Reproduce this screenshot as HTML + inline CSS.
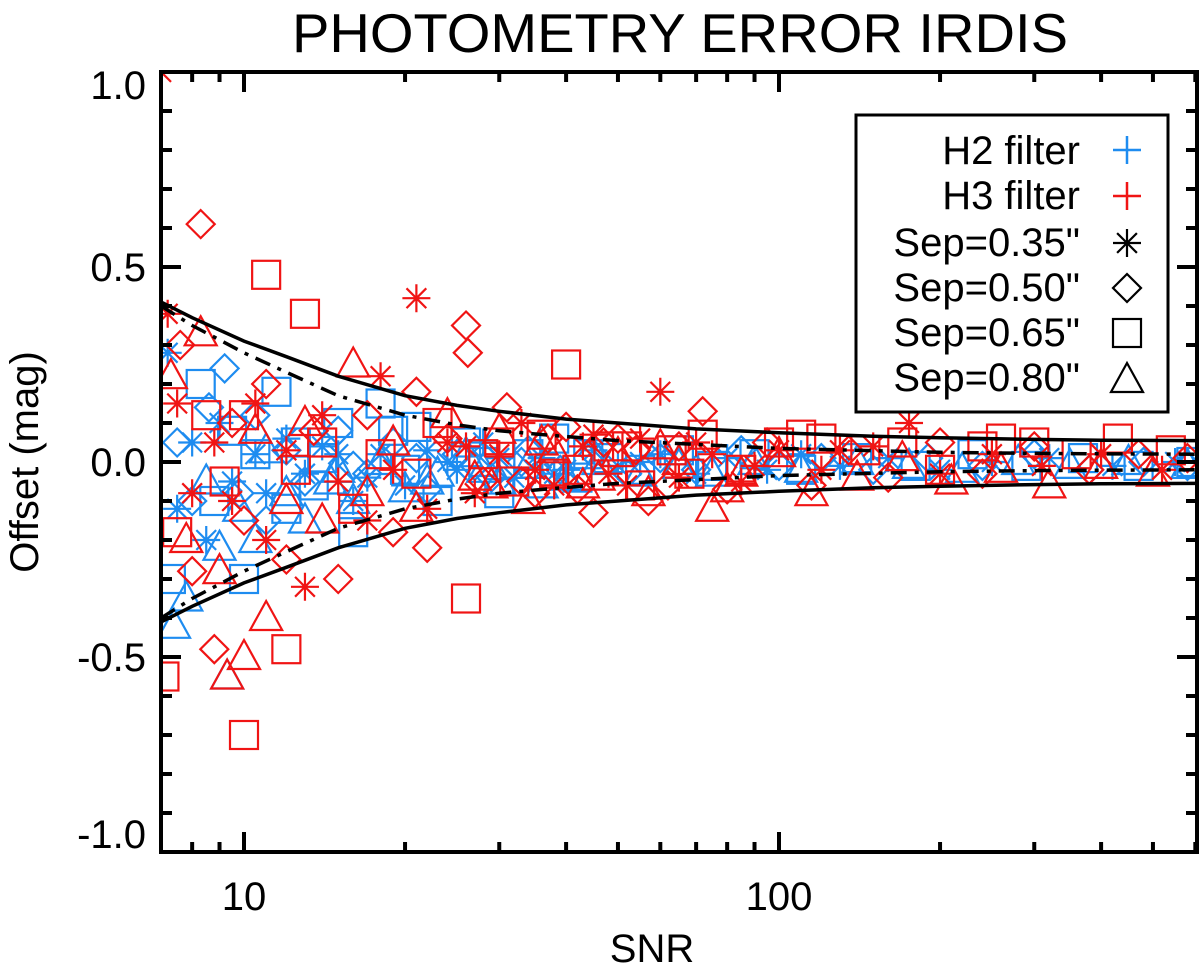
<!DOCTYPE html>
<html><head><meta charset="utf-8"><style>
body{margin:0;background:#fff}
svg{display:block;font-family:"Liberation Sans",sans-serif}
</style></head><body>
<svg id="chart" width="1200" height="966" viewBox="0 0 1200 966">
<defs><clipPath id="pc"><rect x="161" y="72" width="1036" height="780"/></clipPath></defs>
<text x="680" y="52" font-size="55" text-anchor="middle" transform="translate(680,0) scale(1.02,1) translate(-680,0)">PHOTOMETRY ERROR IRDIS</text>
<text transform="translate(38,462) rotate(-90)" font-size="40" text-anchor="middle">Offset (mag)</text>
<text x="652" y="962" font-size="40" text-anchor="middle">SNR</text>
<g id="marks" clip-path="url(#pc)"></g>
<g id="axes"></g>
<g>
<rect x="856" y="115" width="312" height="297" fill="#fff" stroke="#000" stroke-width="3"/>
<g font-size="40" text-anchor="end">
<text x="1080" y="164">H2 filter</text>
<text x="1080" y="209">H3 filter</text>
<text x="1080" y="256">Sep=0.35"</text>
<text x="1080" y="301">Sep=0.50"</text>
<text x="1080" y="346">Sep=0.65"</text>
<text x="1080" y="391">Sep=0.80"</text>
</g>
<g id="legsym"></g>
</g>
</svg>
<script>
const xTicksMajor=[10,100];
const xTicksMinor=[8,9,20,30,40,50,60,70,80,90,200,300,400,500,600];
const yTickLabels=["1.0","0.5","0.0","-0.5","-1.0"];
const yTickValues=[1.0,0.5,0,-0.5,-1.0];
const curveSNR=[7,8,10,12,15,20,25,30,40,50,70,100,150,200,300,400,600];
const solidEnv=[0.41,0.37,0.31,0.27,0.22,0.17,0.145,0.13,0.11,0.10,0.085,0.075,0.066,0.062,0.058,0.056,0.055];
const dashEnv=[0.40,0.35,0.28,0.23,0.17,0.12,0.095,0.08,0.065,0.055,0.045,0.035,0.029,0.025,0.022,0.021,0.02];
const h2Star=[[7.2,0.28],[7.5,-0.12],[8,0.05],[8.5,-0.2],[9,0.1],[9.5,-0.05],[10.5,0.02],[11,-0.08],[12,0.06],[13,-0.03],[14,0.04],[16,-0.1],[18,0.02],[20,-0.06],[22,0.03],[25,-0.02],[28,0.05],[32,-0.04],[36,0.01],[40,-0.02],[45,0.03],[50,-0.01],[60,0.02],[70,-0.03],[80,0.01],[95,-0.02],[110,0.02],[130,-0.01],[160,0.01],[200,-0.02],[250,0.0],[320,0.01],[420,-0.01],[550,0.0],[15,0.02],[17,-0.04],[24,0.0],[30,0.01],[38,-0.03],[55,0.0]];
const h2Diamond=[[7.5,0.05],[8,-0.1],[8.6,0.14],[9.2,0.24],[9.8,-0.08],[10.5,0.12],[11,-0.15],[12,0.03],[13,-0.05],[15,0.08],[17,-0.03],[19,0.05],[22,-0.07],[25,0.02],[29,-0.04],[34,0.03],[39,-0.02],[45,0.02],[52,-0.03],[60,0.01],[70,-0.02],[85,0.03],[100,-0.01],[120,0.01],[150,-0.02],[190,0.01],[240,-0.01],[300,0.02],[380,-0.02],[480,0.0],[580,-0.01],[16,-0.01],[21,0.01],[27,-0.01],[33,0.0]];
const h2Square=[[7.3,-0.3],[8.3,0.2],[8.8,-0.1],[9.5,0.08],[10,-0.3],[10.5,0.02],[11.5,0.18],[12,-0.12],[12.5,0.05],[13.5,-0.06],[15,0.1],[16,-0.18],[18,0.15],[19,0.08],[21,0.09],[23,-0.1],[26,0.05],[30,-0.08],[34,0.02],[38,0.06],[42,-0.04],[48,0.01],[55,-0.02],[65,0.03],[75,-0.01],[90,0.02],[110,-0.02],[140,0.01],[180,-0.01],[230,0.02],[290,-0.01],[370,0.01],[470,-0.01],[590,0.0],[14,0.01],[20,-0.02],[28,0.0],[44,0.02]];
const h2Tri=[[7.4,-0.42],[7.8,-0.35],[8.5,-0.05],[9,-0.22],[9.3,-0.55],[9.8,-0.12],[10.5,-0.2],[11,0.03],[12,-0.08],[13,-0.15],[14.5,-0.05],[16,-0.1],[18,0.0],[20,-0.07],[23,-0.03],[26,0.02],[30,-0.05],[34,-0.01],[40,-0.04],[46,0.0],[55,-0.03],[65,-0.01],[75,-0.03],[90,0.0],[110,-0.02],[140,0.0],[175,-0.01],[220,-0.02],[280,0.0],[350,-0.01],[450,0.0],[580,-0.01],[15,-0.02],[22,-0.05],[28,-0.02],[36,-0.06]];
const h3Star=[[7,1.0],[7.2,0.38],[7.5,0.15],[8,-0.08],[8.8,0.05],[9.5,-0.1],[10.5,0.15],[11,-0.2],[12,0.03],[13,-0.32],[14,0.12],[15,-0.05],[17,-0.15],[18,0.22],[19,-0.02],[21,0.42],[22,-0.12],[24,0.05],[27,-0.08],[30,0.02],[33,0.1],[38,-0.06],[43,0.04],[48,-0.03],[55,0.06],[60,0.18],[65,-0.04],[75,0.02],[85,-0.05],[100,0.03],[120,-0.02],[150,0.04],[175,0.1],[200,-0.03],[250,0.02],[310,-0.01],[400,0.02],[520,-0.02],[26,0.04],[35,-0.02],[45,0.07],[52,-0.06],[70,0.05],[90,-0.01],[130,0.03]];
const h3Diamond=[[7.6,0.3],[8,-0.28],[8.3,0.61],[8.8,-0.48],[9.5,0.1],[10,-0.15],[11,0.2],[12,-0.25],[13.5,0.08],[15,-0.3],[17,0.12],[19,-0.18],[21,0.18],[22,-0.22],[24,0.06],[26,0.35],[26.2,0.28],[28,-0.05],[31,0.14],[35,-0.08],[40,0.09],[45,-0.13],[50,0.06],[57,-0.1],[65,0.04],[72,0.13],[80,-0.07],[95,0.05],[115,-0.06],[135,0.03],[160,-0.04],[200,0.05],[240,-0.03],[300,0.04],[380,-0.02],[470,0.02],[580,0.01],[33,-0.05],[37,0.06],[42,-0.07],[47,0.05],[54,0.03],[62,-0.06]];
const h3Square=[[7.1,-0.55],[7.5,-0.18],[8.5,0.12],[9.2,-0.05],[10,0.12],[10,-0.7],[11,0.48],[12,-0.48],[12.5,-0.02],[13,0.38],[14,0.05],[16,-0.12],[18,0.02],[21,-0.03],[23,0.1],[26,-0.35],[28,0.02],[32,-0.05],[36,0.07],[40,0.25],[42,-0.02],[48,0.04],[55,-0.06],[63,0.03],[72,0.07],[85,-0.02],[100,0.05],[120,0.06],[145,0.03],[170,0.05],[200,-0.02],[240,0.04],[300,0.05],[360,0.02],[430,0.06],[540,0.03],[30,0.05],[38,-0.03],[52,0.04],[68,-0.03],[110,0.07],[260,0.06]];
const h3Tri=[[7.3,0.22],[7.8,-0.2],[8.3,0.33],[9,-0.28],[9.3,-0.55],[10,-0.5],[10.5,0.08],[11,-0.4],[12,-0.1],[13,0.1],[14,-0.15],[16,0.25],[17,-0.08],[19,0.05],[21,-0.12],[24,0.12],[27,-0.04],[30,0.08],[34,-0.1],[38,0.03],[43,-0.06],[50,0.02],[57,-0.08],[65,0.0],[75,-0.12],[85,-0.03],[100,0.02],[115,-0.08],[140,-0.04],[170,0.01],[210,-0.05],[260,-0.02],[320,-0.06],[400,-0.01],[500,-0.03],[29,-0.06],[36,0.05],[46,-0.04],[60,0.04],[80,-0.07]];

const NS="http://www.w3.org/2000/svg";
const X0=161,X1=1197,Y0=72,Y1=852;
function xs(v){return 244+535*(Math.log10(v)-1);}
function ys(v){return 462-390*v;}
function mk(tag,attrs,parent){const e=document.createElementNS(NS,tag);for(const k in attrs)e.setAttribute(k,attrs[k]);parent.appendChild(e);return e;}
const marks=document.getElementById('marks'),axes=document.getElementById('axes'),legsym=document.getElementById('legsym');
const BLUE="#1e8cf0",RED="#f01414";
function sym(shape,cx,cy,col,parent,name){
  let e;const s=14;
  if(shape==='square')e=mk('rect',{x:cx-s,y:cy-s,width:2*s,height:2*s,fill:'none',stroke:col,'stroke-width':2.2},parent);
  else if(shape==='diamond')e=mk('polygon',{points:`${cx},${cy-14} ${cx+14},${cy} ${cx},${cy+14} ${cx-14},${cy}`,fill:'none',stroke:col,'stroke-width':2.2},parent);
  else if(shape==='tri')e=mk('polygon',{points:`${cx},${cy-17} ${cx+16},${cy+12} ${cx-16},${cy+12}`,fill:'none',stroke:col,'stroke-width':2.2},parent);
  else if(shape==='star'){const r=14,d=r*0.707;e=mk('path',{d:`M${cx},${cy-r}V${cy+r}M${cx-d},${cy-d}L${cx+d},${cy+d}M${cx+d},${cy-d}L${cx-d},${cy+d}M${cx-r},${cy}H${cx+r}`,stroke:col,'stroke-width':2.2,fill:'none'},parent);}
  else if(shape==='plus'){e=mk('path',{d:`M${cx},${cy-14}V${cy+14}M${cx-14},${cy}H${cx+14}`,stroke:col,'stroke-width':2.5,fill:'none'},parent);}
  
  
  return e;
}
const series=[[h3Star,'star',RED,'h3-sep035-point'],[h3Diamond,'diamond',RED,'h3-sep050-point'],[h3Square,'square',RED,'h3-sep065-point'],[h3Tri,'tri',RED,'h3-sep080-point'],
[h2Star,'star',BLUE,'h2-sep035-point'],[h2Diamond,'diamond',BLUE,'h2-sep050-point'],[h2Square,'square',BLUE,'h2-sep065-point'],[h2Tri,'tri',BLUE,'h2-sep080-point']];
const order=[4,5,6,7,0,1,2,3];
order.forEach(i=>{const [arr,sh,col,nm]=series[i];arr.forEach(p=>sym(sh,xs(p[0]),ys(p[1]),col,marks,nm));});
function curve(env,sign,dash,name){
  const d=curveSNR.map((s,i)=>(i?'L':'M')+xs(s).toFixed(1)+','+ys(sign*env[i]).toFixed(1)).join('');
  const e=mk('path',{d:d,fill:'none',stroke:'#000','stroke-width':3.5},marks);
  if(dash)e.setAttribute('stroke-dasharray',dash);
  
  
}
curve(solidEnv,1,null,'upper-envelope-solid');
curve(solidEnv,-1,null,'lower-envelope-solid');
curve(dashEnv,1,'16 8 4 8','upper-envelope-dashdot');
curve(dashEnv,-1,'16 8 4 8','lower-envelope-dashdot');
const fr=mk('rect',{x:X0,y:Y0,width:X1-X0,height:Y1-Y0,fill:'none',stroke:'#000','stroke-width':4},axes);


for(let k=-10;k<=10;k++){
  const v=k/10,y=ys(v),L=(k%5===0)?20:11;
  mk('line',{x1:X0,y1:y,x2:X0+L,y2:y,stroke:'#000','stroke-width':4},axes);
  mk('line',{x1:X1,y1:y,x2:X1-L,y2:y,stroke:'#000','stroke-width':4},axes);
}
yTickValues.forEach((v,i)=>{
  let y=ys(v)+14; if(v===1)y=ys(v)+27; if(v===-1)y=ys(v)-4;
  const t=mk('text',{x:146,y:y,'font-size':40,'text-anchor':'end'},axes);t.textContent=yTickLabels[i];
  
  
});
xTicksMajor.forEach(v=>{const x=xs(v);
  mk('line',{x1:x,y1:Y1,x2:x,y2:Y1-20,stroke:'#000','stroke-width':4},axes);
  mk('line',{x1:x,y1:Y0,x2:x,y2:Y0+20,stroke:'#000','stroke-width':4},axes);
  const t=mk('text',{x:x,y:910,'font-size':40,'text-anchor':'middle'},axes);t.textContent=String(v);
  
  
});
xTicksMinor.forEach(v=>{const x=xs(v);if(x>X1)return;
  mk('line',{x1:x,y1:Y1,x2:x,y2:Y1-10,stroke:'#000','stroke-width':4},axes);
  mk('line',{x1:x,y1:Y0,x2:x,y2:Y0+10,stroke:'#000','stroke-width':4},axes);
});
sym('plus',1127,150,BLUE,legsym,'legend-h2-symbol');
sym('plus',1127,196,RED,legsym,'legend-h3-symbol');
sym('star',1127,243,'#000',legsym,'legend-sep035-symbol');
sym('diamond',1127,288,'#000',legsym,'legend-sep050-symbol');
sym('square',1127,333,'#000',legsym,'legend-sep065-symbol');
sym('tri',1127,380,'#000',legsym,'legend-sep080-symbol');
</script>
</body></html>
